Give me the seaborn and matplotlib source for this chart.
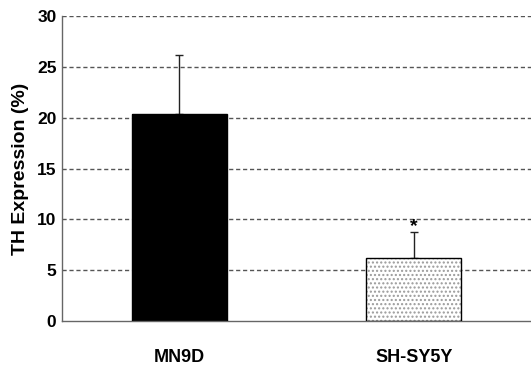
import matplotlib
matplotlib.use("Agg")
import matplotlib.pyplot as plt
import seaborn as sns
import pandas as pd

categories = ["MN9D", "SH-SY5Y"]
values = [20.4, 6.2]
errors = [5.8, 2.6]
y_ticks = [0, 5, 10, 15, 20, 25, 30]
significance = ["", "*"]

sns.set_style("white")
plt.rcParams['font.family'] = ['Liberation Sans', 'DejaVu Sans']
plt.rcParams['hatch.linewidth'] = 1.0
plt.rcParams['text.color'] = 'black'
plt.rcParams['axes.labelcolor'] = 'black'
plt.rcParams['xtick.color'] = 'black'
plt.rcParams['ytick.color'] = 'black'

df = pd.DataFrame({"cell": categories, "value": values})

fig = plt.figure(figsize=(5.31, 3.66), dpi=100)
ax = fig.add_axes([0.1168, 0.123, 0.8832, 0.833])

# fill layer
sns.barplot(data=df, x="cell", y="value", ax=ax, width=0.404,
            palette=["black", "white"], hue="cell", legend=False,
            linewidth=0, errorbar=None, zorder=2)
ax.patches[1].set_hatch("....")
ax.patches[1].set_edgecolor("#9a9a9a")
# outline layer
sns.barplot(data=df, x="cell", y="value", ax=ax, width=0.404,
            fill=False, edgecolor="black", linewidth=1.0,
            errorbar=None, zorder=3)

ax.errorbar([0, 1], values, yerr=[[0, 0], errors], fmt="none",
            ecolor="#222222", elinewidth=1.0, capsize=3, capthick=1.0, zorder=1)

for i, s in enumerate(significance):
    if s:
        ax.text(i, values[i] + errors[i] + 0.05, s, ha="center", va="baseline",
                fontsize=14, fontweight="bold")

ax.set_xlim(-0.5, 1.5)
ax.set_ylim(0, 30)
ax.set_yticks(y_ticks)
ax.set_yticklabels([str(t) for t in y_ticks], fontsize=12.5, fontweight="bold")
ax.set_xticks([0, 1])
ax.set_xticklabels(categories, fontsize=13, fontweight="bold")
ax.tick_params(axis="x", pad=20, length=0)
ax.tick_params(axis="y", pad=4, length=0)
ax.set_xlabel("")
ax.set_ylabel("TH Expression (%)", fontsize=14, fontweight="bold", labelpad=6)

for t in y_ticks[1:]:
    ax.axhline(t, color="#555555", linestyle=(0, (3, 2)), linewidth=1.0, zorder=0)

ax.spines["top"].set_visible(False)
ax.spines["right"].set_visible(False)
for sp in ["left", "bottom"]:
    ax.spines[sp].set_color("#666666")
    ax.spines[sp].set_linewidth(1.0)

fig.savefig("out.png", dpi=100)
